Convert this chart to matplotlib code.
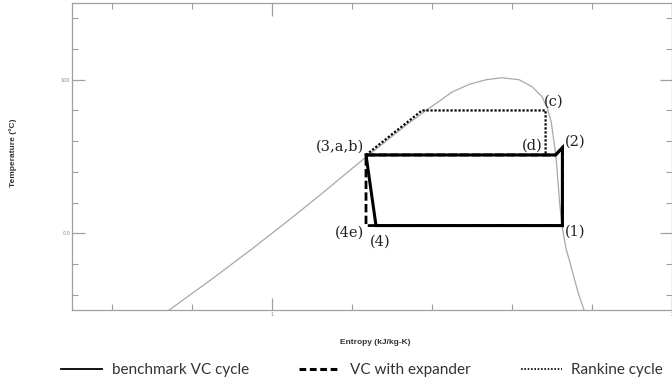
import matplotlib
matplotlib.use("Agg")
import matplotlib.pyplot as plt
from matplotlib.lines import Line2D
from matplotlib.ticker import FixedLocator, MultipleLocator, FuncFormatter

# saturation dome (entropy kJ/kg-K, temperature C)
sat_s_liq = [0.743, 0.796, 0.849, 0.900, 0.951, 1.000, 1.049, 1.097, 1.144, 1.190,
             1.237, 1.285, 1.333, 1.385, 1.418, 1.450, 1.493, 1.535, 1.575]
sat_T_liq = [-50, -40, -30, -20, -10, 0, 10, 20, 30, 40,
             50, 60, 70, 80, 86, 92, 97, 100, 101.3]
sat_s_vap = [1.618, 1.650, 1.675, 1.688, 1.698, 1.705, 1.710, 1.713, 1.716, 1.719,
             1.725, 1.735, 1.746, 1.756, 1.767, 1.780]
sat_T_vap = [100, 95.5, 89, 81.7, 72.5, 59.5, 50, 40, 30, 20,
             5, -10, -20, -30, -40, -50]

# cycles
bench_s = [1.726, 1.726, 1.709, 1.235, 1.260, 1.726]
bench_T = [5, 55.8, 51, 51, 5, 5]
exp_s = [1.726, 1.726, 1.709, 1.235, 1.235, 1.726]
exp_T = [5, 55.8, 51, 51, 5, 5]
rank_s = [1.235, 1.375, 1.684, 1.684, 1.235]
rank_T = [51, 80, 80, 51, 51]

# state point labels
pt_labels = ["(3,a,b)", "(c)", "(d)", "(2)", "(4e)", "(4)", "(1)"]
pt_s = [1.235, 1.684, 1.684, 1.726, 1.235, 1.260, 1.726]
pt_T = [51, 80, 51, 55.8, 5, 5, 5]
pt_off = [(-1.5, 6), (-1, 6), (-2, 7), (1.5, 4), (-1.5, -5), (-4.5, -11.5), (1.5, -4.5)]
pt_ha = ["right", "left", "right", "left", "right", "left", "left"]

legend_labels = ["benchmark VC cycle", "VC with expander", "Rankine cycle"]

fig = plt.figure(figsize=(6.72, 3.85), dpi=100)
ax = fig.add_axes([72 / 672, 1 - 310 / 385, 600 / 672, 307 / 385])

ax.plot(sat_s_liq + sat_s_vap, sat_T_liq + sat_T_vap, color="#a8a8a8", lw=0.9)

dash = (0, (3, 1.2))
dot = (0, (1, 0.8))
ax.plot(bench_s, bench_T, color="black", lw=2.2, solid_joinstyle="miter")
ax.plot(exp_s, exp_T, color="black", lw=2.0, linestyle=dash)
ax.plot(rank_s, rank_T, color="black", lw=1.6, linestyle=dot)

for lab, s, t, off, ha in zip(pt_labels, pt_s, pt_T, pt_off, pt_ha):
    ax.annotate(lab, (s, t), xytext=off, textcoords="offset points",
                ha=ha, va="center", fontsize=10.5, family="DejaVu Serif",
                color="#222222")

ax.set_xlim(0.5, 2.0)
ax.set_ylim(-50, 150)
ax.xaxis.set_major_locator(FixedLocator([1, 2]))
ax.xaxis.set_minor_locator(MultipleLocator(0.2))
ax.yaxis.set_major_locator(FixedLocator([0, 100]))
ax.yaxis.set_minor_locator(MultipleLocator(20))
ax.xaxis.set_major_formatter(FuncFormatter(lambda v, p: "%g" % v))
ax.yaxis.set_major_formatter(FuncFormatter(lambda v, p: "0.0" if v == 0 else "%d" % v))

grey = "#a0a0a0"
for sp in ax.spines.values():
    sp.set_color(grey)
    sp.set_linewidth(0.9)
ax.tick_params(which="both", direction="in", top=True, right=True,
               color=grey, labelcolor="#888888", labelsize=3.5, pad=1.5)
ax.tick_params(which="major", length=9, width=0.9)
ax.tick_params(which="minor", length=4, width=0.8)

fig.text(13 / 672, 1 - 153 / 385, "Temperature (°C)", rotation=90, ha="center",
         va="center", fontsize=6, fontweight="bold", family="Liberation Sans",
         color="#333333")
fig.text(375 / 672, 1 - 343 / 385, "Entropy (kJ/kg-K)", ha="center", va="center",
         fontsize=6, fontweight="bold", family="Liberation Sans", color="#333333")

handles = [
    Line2D([], [], color="black", lw=1.3),
    Line2D([], [], color="black", lw=2.2, linestyle=(0, (2.2, 1.2))),
    Line2D([], [], color="black", lw=1.2, linestyle=(0, (1, 1))),
]
fig.legend(handles, legend_labels, loc="center", ncol=3, frameon=False,
           bbox_to_anchor=(362 / 672, 1 - 370 / 385),
           prop={"family": "Lato", "size": 11},
           handlelength=2.7, handletextpad=0.6, columnspacing=3.3,
           borderpad=0, labelcolor="#333333")

fig.savefig("out.png", dpi=100)
